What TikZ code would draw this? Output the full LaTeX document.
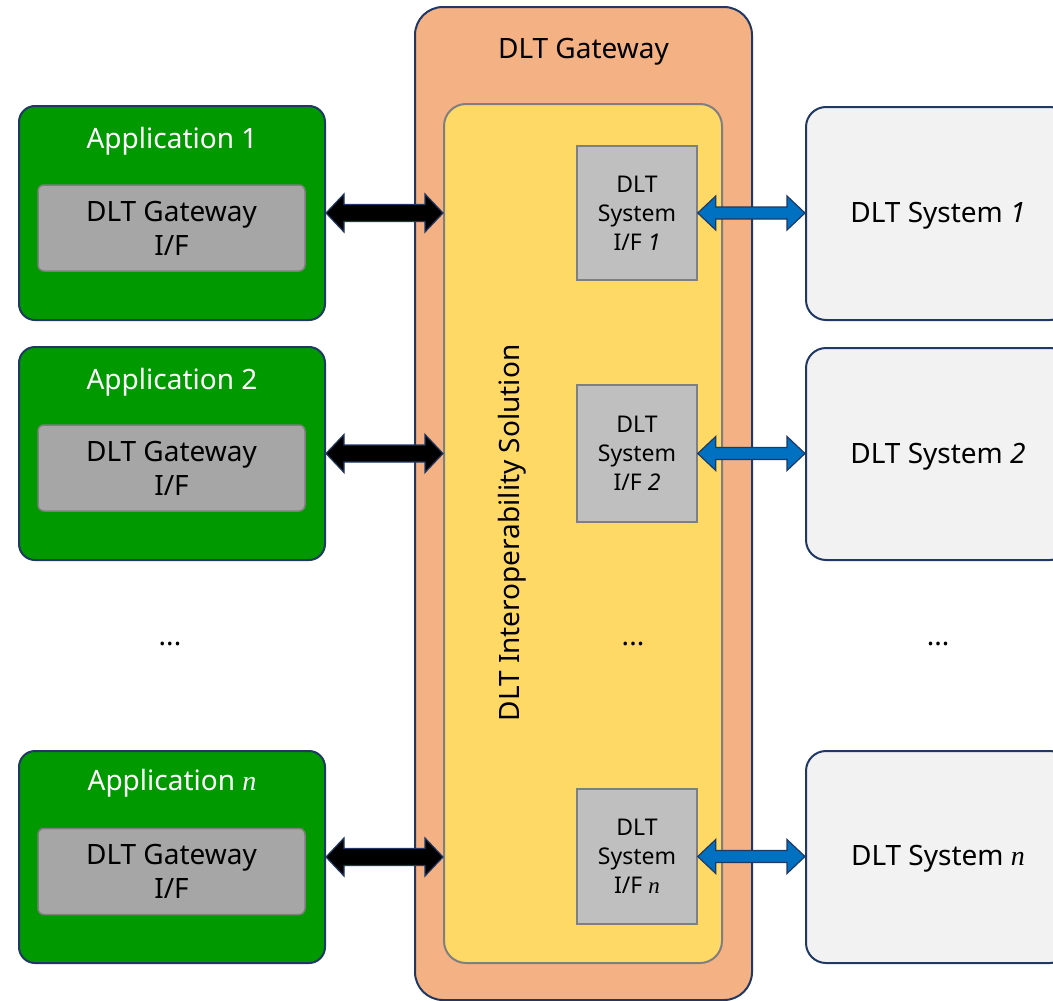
\documentclass[tikz,border=0pt]{standalone}
\usepackage{fontspec}
\setmainfont{Noto Sans}
\newfontfamily\serifn{Liberation Serif}
\usetikzlibrary{calc}
\definecolor{appgreen}{HTML}{009900}
\definecolor{navy}{HTML}{203864}
\definecolor{gwor}{HTML}{F4B183}
\definecolor{solyel}{HTML}{FFD966}
\definecolor{ifgray}{HTML}{BFBFBF}
\definecolor{gwgray}{HTML}{A6A6A6}
\definecolor{bordgray}{HTML}{7F7F7F}
\definecolor{dltbg}{HTML}{F2F2F2}
\definecolor{arrblue}{HTML}{0070C0}
\newcommand\nn{{\serifn\itshape n}}
\newcommand\fatarrow[5]{%
 \filldraw[#1] let \p1=(#2), \p2=(#3) in (\x1,\y1) -- (\x1+18pt,\y1+#5) -- (\x1+18pt,\y1+#4) -- (\x2-18pt,\y1+#4) -- (\x2-18pt,\y1+#5) -- (\x2,\y1) -- (\x2-18pt,\y1-#5) -- (\x2-18pt,\y1-#4) -- (\x1+18pt,\y1-#4) -- (\x1+18pt,\y1-#5) -- cycle;}
\tikzset{
 gw/.style={draw=navy, line width=2pt, fill=gwor, rounded corners=28pt, minimum width=337pt, minimum height=993pt, inner sep=0pt},
 sol/.style={draw=bordgray, line width=2pt, fill=solyel, rounded corners=22pt, minimum width=278pt, minimum height=859pt, inner sep=0pt},
 ifbox/.style={draw=bordgray, line width=1.5pt, fill=ifgray, minimum width=120pt, align=center, font=\fontsize{23}{29}\selectfont, inner sep=0pt},
 app/.style={draw=navy, line width=2pt, fill=appgreen, rounded corners=16pt, minimum width=306pt, inner sep=0pt},
 apptitle/.style={text=white, inner sep=0pt},
 gwif/.style={draw=bordgray, line width=1.5pt, fill=gwgray, rounded corners=6pt, minimum width=267pt, minimum height=86pt, align=center, inner sep=0pt},
 dlt/.style={draw=navy, line width=2pt, fill=dltbg, rounded corners=20pt, minimum width=264pt, inner sep=0pt},
 dlttext/.style={inner sep=0pt},
 blackarrow/.style={fill=black, draw=navy, line width=1.2pt, line join=miter},
 bluearrow/.style={fill=arrblue, draw=navy, line width=1.2pt, line join=miter},
 dots/.style={inner sep=0pt}
}
\begin{document}
\begin{tikzpicture}[x=1pt,y=-1pt,font=\fontsize{28}{34}\selectfont]
\useasboundingbox (0,0) rectangle (1053,1001);
\clip (0,0) rectangle (1053,1001);
% gateway
\node[gw] (gw) at (583.5,503.5) {};
\node[inner sep=0pt] (gwt) at (583.5,52) {DLT Gateway};
\node[sol] (sol) at (583,533.5) {};
\node[rotate=90, inner sep=0pt] (solt) at (512,533) {DLT Interoperability Solution};
\node[ifbox, minimum height=134pt] (if1) at (637,213) {DLT\\System\\I/F \textit{1}};
\node[ifbox, minimum height=137pt] (if2) at (637,453.5) {DLT\\System\\I/F \textit{2}};
\node[ifbox, minimum height=135pt] (ifn) at (637,856.5) {DLT\\System\\I/F \nn};
\node[dots] (dm) at (633,644) {...};
% applications
\node[app, minimum height=214pt] (app1) at (172,213) {};
\node[apptitle] (at1) at (172,141) {Application 1};
\node[gwif] (gif1) at (171.5,228) {DLT Gateway\\I/F};
\node[app, minimum height=213pt] (app2) at (172,453.5) {};
\node[apptitle] (at2) at (172,382) {Application 2};
\node[gwif] (gif2) at (171.5,468) {DLT Gateway\\I/F};
\node[app, minimum height=212pt] (appn) at (172,857) {};
\node[apptitle] (atn) at (172,783) {Application \nn};
\node[gwif] (gifn) at (171.5,871.5) {DLT Gateway\\I/F};
\node[dots] (dl) at (170,644) {...};
% DLT systems
\node[dlt, minimum height=213pt] (d1) at (938,213.5) {};
\node[dlttext] (d1t) at (938,216) {DLT System \textit{1}};
\node[dlt, minimum height=212pt] (d2) at (938,454) {};
\node[dlttext] (d2t) at (938,457) {DLT System \textit{2}};
\node[dlt, minimum height=212pt] (dn) at (938,857) {};
\node[dlttext] (dnt) at (938,859) {DLT System \nn};
\node[dots] (dr) at (938,644) {...};
% arrows
\fatarrow{blackarrow}{app1.east}{app1.east -| sol.west}{8.5pt}{19pt}
\fatarrow{blackarrow}{app2.east}{app2.east -| sol.west}{8.5pt}{19pt}
\fatarrow{blackarrow}{appn.east}{appn.east -| sol.west}{8.5pt}{19pt}
\fatarrow{bluearrow}{if1.east}{if1.east -| d1.west}{6pt}{17pt}
\fatarrow{bluearrow}{if2.east}{if2.east -| d2.west}{6pt}{17pt}
\fatarrow{bluearrow}{ifn.east}{ifn.east -| dn.west}{6pt}{17pt}
\end{tikzpicture}
\end{document}
